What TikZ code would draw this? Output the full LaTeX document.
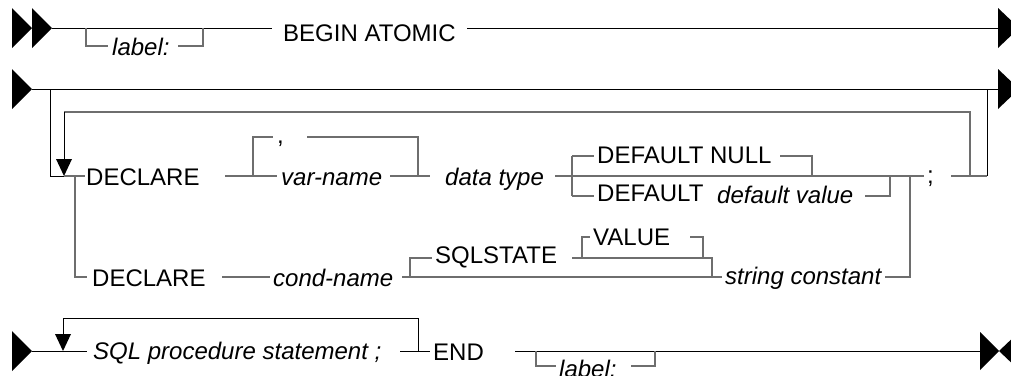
\documentclass[tikz,border=0pt]{standalone}
\usepackage{fontspec}
\setmainfont{Liberation Sans}
\definecolor{gline}{RGB}{110,110,110}
\begin{document}
\begin{tikzpicture}[x=1pt,y=-1pt,
  mainline/.style={draw=black, line width=1pt},
  subline/.style={draw=gline, line width=1.2pt},
  txt/.style={anchor=base west, inner sep=0pt, font=\fontsize{24}{28}\selectfont},
  itx/.style={anchor=base west, inner sep=0pt, font=\fontsize{24}{28}\selectfont\itshape},
  tri/.style={fill=black, draw=none}]
\useasboundingbox (0,0) rectangle (1011,375);
\clip (0,0) rectangle (1011,375);
\fill[white] (0,0) rectangle (1011,375);

% ---------- Row 1 ----------
\fill[tri] (12,8) -- (12,48) -- (32,28) -- cycle;
\fill[tri] (32,8) -- (32,48) -- (52,28) -- cycle;
\fill[tri] (998,8) -- (998,48) -- (1019,28) -- cycle;
\draw[mainline] (52,28) -- (272,28);
\draw[mainline] (467,28) -- (998,28);
\node[txt] (begin) at (283,41.5) {BEGIN ATOMIC};
\draw[subline] (86,28) -- (86,46) -- (108,46);
\node[itx] (lab1) at (112,55.5) {label:};
\draw[subline] (178,46) -- (203,46) -- (203,28);

% ---------- Row 2 ----------
\fill[tri] (12,69) -- (12,109) -- (32,89) -- cycle;
\fill[tri] (998,69) -- (998,109) -- (1019,89) -- cycle;
\draw[mainline] (32,89) -- (998,89);
\draw[mainline] (50.5,89) -- (50.5,176) -- (64,176);
\draw[mainline] (987,89) -- (987,176);
% repeat loop
\draw[subline] (970,176) -- (970,112) -- (64,112);
\draw[mainline] (64,112) -- (64,162);
\fill[tri] (56,159) -- (72,159) -- (64,176) -- cycle;
\draw[subline] (64,176) -- (85,176);
\draw[subline] (75,176) -- (75,277) -- (87,277);

% DECLARE variable
\node[txt] (decl1) at (86,185) {DECLARE};
\draw[subline] (225,176) -- (277,176);
\draw[subline] (253,176) -- (253,137) -- (273,137);
\node[txt] (comma) at (277,143) {,};
\draw[subline] (307,137) -- (418,137) -- (418,176);
\node[itx] (varname) at (281,185) {var-name};
\draw[subline] (390,176) -- (430,176);
\node[itx] (dtype) at (445,185) {data type};
\draw[subline] (555,176) -- (924,176);
\draw[subline] (572,156) -- (572,196);
\draw[subline] (572,156) -- (594,156);
\node[txt] (dnull) at (597,163) {DEFAULT NULL};
\draw[subline] (780,156) -- (812,156) -- (812,176);
\draw[subline] (572,196) -- (594,196);
\node[txt] (dflt) at (597,201.5) {DEFAULT};
\node[itx] (dval) at (717,203.5) {default value};
\draw[subline] (865,196) -- (890,196) -- (890,176);
\node[txt] (semi) at (927,183) {;};
\draw[subline] (951,176) -- (987,176);
\draw[subline] (910,176) -- (910,277) -- (885,277);

% DECLARE condition
\node[txt] (decl2) at (92,286.5) {DECLARE};
\draw[subline] (222,277) -- (270,277);
\node[itx] (cond) at (273,286.5) {cond-name};
\draw[subline] (402,277) -- (722,277);
\draw[subline] (410,277) -- (410,258) -- (432,258);
\node[txt] (sqlstate) at (435,263.5) {SQLSTATE};
\draw[subline] (572,258) -- (712,258) -- (712,277);
\draw[subline] (582,258) -- (582,237) -- (590,237);
\node[txt] (value) at (593,245.5) {VALUE};
\draw[subline] (690,237) -- (703,237) -- (703,258);
\node[itx] (strc) at (725,284) {string constant};

% ---------- Row 3 ----------
\fill[tri] (12,331) -- (12,371) -- (32,351) -- cycle;
\draw[mainline] (32,351) -- (87,351);
\draw[mainline] (418,351) -- (418,318) -- (63,318) -- (63,337);
\fill[tri] (55,334) -- (71,334) -- (63,351) -- cycle;
\node[itx] (sqlstmt) at (93,359.5) {SQL procedure statement ;};
\draw[mainline] (400,351) -- (430,351);
\node[txt] (endkw) at (433,360) {END};
\draw[mainline] (515,351) -- (980,351);
\draw[subline] (536,351) -- (536,366) -- (556,366);
\node[itx] (lab3) at (559,377.5) {label:};
\draw[subline] (631,366) -- (655,366) -- (655,351);
\fill[tri] (980,332) -- (980,370) -- (999,351) -- cycle;
\fill[tri] (1019,332) -- (1019,370) -- (999,351) -- cycle;
\end{tikzpicture}
\end{document}
